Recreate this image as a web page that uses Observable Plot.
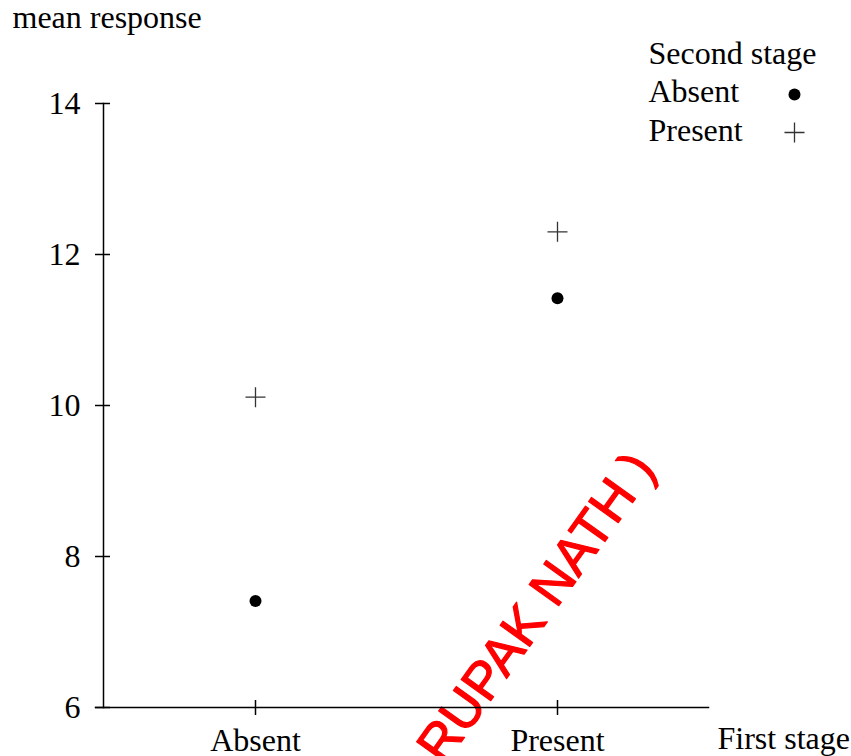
<!DOCTYPE html>
<html><head><meta charset="utf-8">
<script src="https://cdn.jsdelivr.net/npm/d3@7"></script>
<script src="https://cdn.jsdelivr.net/npm/@observablehq/plot@0.6"></script>
<style>html,body{margin:0;padding:0;background:#fff} svg{display:block}</style>
</head><body><div id="chart"></div>
<script>
const firstStage = ["Absent", "Present"];
const secondStageAbsent = [7.41, 11.42];
const secondStagePresent = [10.11, 12.30];
const yTicks = [6, 8, 10, 12, 14];
const legendTitle = "Second stage";
const legendLabels = ["Absent", "Present"];
const yLabel = "mean response";
const xLabel = "First stage";
const watermark = "RUPAK NATH )";

const dotsAbsent = firstStage.map((f, i) => ({first: f, mean: secondStageAbsent[i]}));
const dotsPresent = firstStage.map((f, i) => ({first: f, mean: secondStagePresent[i]}));

const serif = "'Liberation Serif', 'Times New Roman', serif";

const chart = Plot.plot({
  width: 851, height: 756,
  marginLeft: 103, marginRight: 143, marginTop: 103, marginBottom: 49,
  style: {fontFamily: serif, fontSize: "32px", color: "#000", background: "#fff", overflow: "visible"},
  x: {type: "point", domain: firstStage, padding: 0.5, label: null},
  y: {domain: [6, 14], label: null},
  marks: [
    Plot.text([watermark], {
      x: () => "Present", y: () => 7.32, text: d => d, dx: -21,
      rotate: -54.4, fontSize: 53, fontFamily: "'Liberation Sans', Arial, sans-serif",
      fill: "#ff0000", stroke: "#ff0000", strokeWidth: 1.2,
      textAnchor: "middle", lineAnchor: "middle"
    }),
    Plot.axisY(yTicks, {tickSize: 15, dx: 7, fill: "none", strokeWidth: 1.5, label: null}),
    Plot.axisY(yTicks, {tickSize: 0, tickPadding: 23, fontSize: 32, tickFormat: d3.format("d"), label: null}),
    Plot.axisX(firstStage, {tickSize: 15, dy: -7, fill: "none", strokeWidth: 1.5, label: null}),
    Plot.axisX(firstStage, {tickSize: 0, tickPadding: 21, fontSize: 32, label: null}),
    Plot.frame({anchor: "left", strokeWidth: 1.5}),
    Plot.frame({anchor: "bottom", insetLeft: -8, strokeWidth: 1.5}),
    Plot.dot(dotsAbsent, {x: "first", y: "mean", r: 6, fill: "#000"}),
    Plot.dot(dotsPresent, {x: "first", y: "mean", r: 6.5, symbol: "plus", stroke: "#333", strokeWidth: 1.3}),
    Plot.text([yLabel], {text: d => d, frameAnchor: "top-left", textAnchor: "start", lineAnchor: "bottom", dx: -91, dy: -76}),
    Plot.text([xLabel], {text: d => d, frameAnchor: "bottom-right", textAnchor: "start", lineAnchor: "bottom", dx: 9, dy: 41}),
    Plot.text([[legendTitle, ...legendLabels].join("\n")], {
      text: d => d, frameAnchor: "top-right", textAnchor: "start", lineAnchor: "bottom",
      lineHeight: 1.203, dx: -60, dy: 37
    }),
    Plot.dot([legendLabels[0]], {frameAnchor: "top-right", dx: 86, dy: -9, r: 6, fill: "#000"}),
    Plot.dot([legendLabels[1]], {frameAnchor: "top-right", dx: 86, dy: 29, r: 6.5, symbol: "plus", stroke: "#333", strokeWidth: 1.3})
  ]
});
document.getElementById("chart").append(chart);
</script>
</body></html>
